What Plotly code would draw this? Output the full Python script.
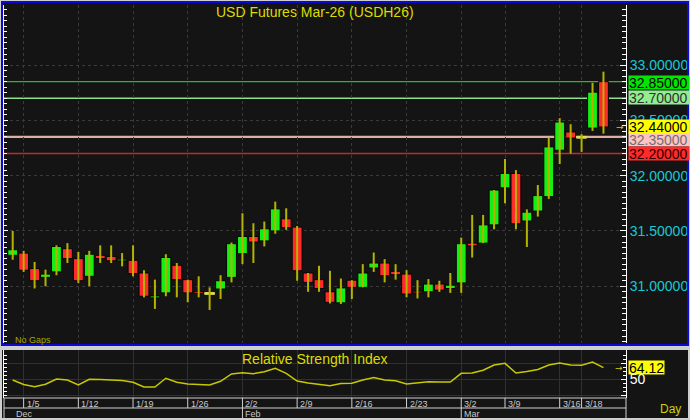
import plotly.graph_objects as go

# ---------------- data ----------------
opens = [31.28, 31.30, 31.16, 31.08, 31.13, 31.34, 31.25, 31.09, 31.28, 31.27,
         31.23, 31.235, 31.12, 30.895, 30.94, 31.19, 31.06, 30.95, 30.935, 30.975,
         31.08, 31.295, 31.45, 31.41, 31.50, 31.61, 31.535, 31.12, 31.06, 30.95,
         30.85, 31.055, 30.99, 31.165, 31.21, 31.135, 31.11, 30.955, 30.95, 31.02,
         30.98, 31.03, 31.39, 31.39, 31.555, 31.89, 32.02, 31.59, 31.68, 31.81,
         32.23, 32.395, 32.347, 32.43, 32.85]
highs = [31.50, 31.32, 31.22, 31.15, 31.37, 31.39, 31.31, 31.32, 31.37, 31.37,
         31.30, 31.37, 31.145, 31.06, 31.29, 31.21, 31.06, 31.09, 30.99, 31.10,
         31.395, 31.66, 31.57, 31.585, 31.765, 31.705, 31.545, 31.12, 31.185, 31.14,
         31.07, 31.055, 31.20, 31.305, 31.245, 31.20, 31.145, 31.055, 31.065, 31.05,
         31.12, 31.44, 31.645, 31.645, 31.87, 32.15, 32.05, 31.695, 31.915, 32.345,
         32.52, 32.465, 32.375, 32.84, 32.94]
lows = [31.24, 31.13, 30.98, 31.00, 31.10, 31.21, 31.03, 31.00, 31.21, 31.21,
        31.18, 31.09, 30.90, 30.795, 30.91, 30.90, 30.855, 30.90, 30.785, 30.885,
        31.035, 31.20, 31.21, 31.36, 31.475, 31.51, 31.05, 30.95, 30.95, 30.845,
        30.84, 30.885, 30.99, 31.13, 31.035, 31.06, 30.90, 30.89, 30.90, 30.95,
        30.94, 30.94, 31.26, 31.39, 31.515, 31.75, 31.515, 31.355, 31.63, 31.79,
        32.105, 32.20, 32.215, 32.405, 32.38]
closes = [31.33, 31.145, 31.05, 31.11, 31.36, 31.25, 31.05, 31.29, 31.25, 31.23,
          31.245, 31.115, 30.91, 30.912, 31.26, 31.06, 30.94, 30.935, 30.935, 31.05,
          31.385, 31.45, 31.40, 31.52, 31.70, 31.53, 31.14, 31.035, 30.98, 30.855,
          30.985, 30.99, 31.12, 31.21, 31.095, 31.105, 30.93, 30.94, 31.02, 30.965,
          31.01, 31.385, 31.365, 31.555, 31.87, 32.02, 31.565, 31.67, 31.82, 32.26,
          32.485, 32.34, 32.347, 32.755, 32.44]
rsi = [48.75, 43.1, 40.4, 43.4, 50.0, 48.75, 42.5, 49.6, 49.4, 48.75,
       48.1, 45.9, 40.0, 40.0, 50.9, 45.9, 43.75, 43.1, 42.5, 47.1,
       56.25, 57.9, 56.6, 59.1, 63.4, 57.1, 47.5, 45.0, 43.75, 41.6,
       44.4, 44.6, 48.75, 51.9, 48.75, 47.9, 43.75, 45.4, 46.5, 46.25,
       46.25, 57.1, 57.5, 60.9, 67.5, 69.6, 57.5, 59.4, 61.9, 67.5,
       70.0, 67.5, 67.1, 71.25, 64.12]

week_idx = [1, 6, 11, 16, 21, 26, 31, 36, 41, 45, 50, 52]
week_labels = ["1/5", "1/12", "1/19", "1/26", "2/2", "2/9", "2/16", "2/23",
               "3/2", "3/9", "3/16", "3/18"]
month_idx = [0, 21, 41]
month_labels = ["Dec", "Feb", "Mar"]

price_ticks = [31.0, 31.5, 32.0, 32.5, 33.0]
rsi_ticks = [30, 50, 70]
rsi_tick_labels = ["", "50", ""]

level_values = [32.85, 32.70, 32.35, 32.20]
level_line_colors = ["#2cb82c", "#8ee08e", "#dcaea6", "#c42828"]
level_line_widths = [1.3, 1.3, 2.2, 1.5]
level_box_colors = ["#00e600", "#90ee90", "#ffc4c4", "#ff2a2a"]
level_text_colors = ["#000000", "#303030", "#707070", "#2a0000"]
level_shift = [-1, 1, -3, 0]

title_text = "USD Futures Mar-26 (USDH26)"
rsi_title = "Relative Strength Index"

# ---------------- helpers (layout only) ----------------
W, H = 690, 420
def fx(p):
    return p / W
def fy(p):
    return 1 - p / H

FONT = "Liberation Sans, Arial, sans-serif"
BG = "#141414"
WICK = "#b4b400"
DOJI = "#dcdc5a"
UP = "#14f014"
DOWN = "#ff2a2a"
BLUE = "#0a0ad2"
GRAY = "#cfcfcf"

n = len(opens)
idx = list(range(n))

# wicks
wx, wy = [], []
for i in idx:
    wx += [i, i, None]
    wy += [lows[i], highs[i], None]

# bodies
bases, heights, colors, lcolors = [], [], [], []
for i in idx:
    o, c = opens[i], closes[i]
    if abs(c - o) < 1e-9:
        bases.append(o - 0.008)
        heights.append(0.016)
        colors.append(DOJI)
        lcolors.append(DOJI)
    else:
        bases.append(min(o, c))
        heights.append(abs(c - o))
        colors.append(UP if c > o else DOWN)
        lcolors.append("#050505")

fig = go.Figure()
fig.add_trace(go.Scatter(x=wx, y=wy, mode="lines", line=dict(color=WICK, width=2),
                         xaxis="x", yaxis="y", hoverinfo="skip"))
fig.add_trace(go.Bar(x=idx, y=heights, base=bases, width=0.9,
                     marker=dict(color=colors, line=dict(color=lcolors, width=1)),
                     xaxis="x", yaxis="y", hoverinfo="skip"))
fig.add_trace(go.Scatter(x=idx, y=rsi, mode="lines", line=dict(color="#c8c800", width=1.5),
                         xaxis="x2", yaxis="y2", hoverinfo="skip"))
# helpers for mirror axes
fig.add_trace(go.Scatter(x=[None], y=[None], xaxis="x", yaxis="y3", showlegend=False))
fig.add_trace(go.Scatter(x=[None], y=[None], xaxis="x2", yaxis="y4", showlegend=False))

XR = [-0.795, 56.06]
YR = [30.487, 33.543]
RR = [26.25, 86.25]
xdom = [fx(4), fx(626)]

axis_common = dict(zeroline=False, fixedrange=True, automargin=False)

fig.update_layout(
    width=W, height=H, margin=dict(l=0, r=0, t=0, b=0, autoexpand=False),
    paper_bgcolor=BG, plot_bgcolor=BG, showlegend=False, bargap=0,
    font=dict(family=FONT),
    xaxis=dict(domain=xdom, range=XR, anchor="y", tickmode="array", tickvals=week_idx,
               showticklabels=False, ticks="", showgrid=True, gridcolor="#3a3a3a",
               griddash="dot", gridwidth=1, showline=False, **axis_common),
    yaxis=dict(domain=[fy(343), fy(5)], range=YR, anchor="x", side="right",
               tickmode="array", tickvals=price_ticks, tickformat=".5f",
               ticks="inside", ticklen=6, tickcolor="#ffffff", tickwidth=1,
               showline=True, linecolor="#ffffff", linewidth=1,
               tickfont=dict(color="#18c8d4", size=14, family=FONT),
               showgrid=True, gridcolor="#3a3a3a", griddash="dot",
               minor=dict(tickmode="linear", tick0=0, dtick=0.05, ticks="inside", ticklen=4,
                          tickcolor="#ffffff", showgrid=False),
               **axis_common),
    yaxis3=dict(overlaying="y", anchor="x", side="left", range=YR,
                tickmode="array", tickvals=price_ticks, showticklabels=False,
                ticks="inside", ticklen=4, tickcolor="#ffffff",
                showline=True, linecolor="#ffffff", linewidth=1, showgrid=False,
                minor=dict(tickmode="linear", tick0=0, dtick=0.05, ticks="inside", ticklen=3,
                           tickcolor="#ffffff", showgrid=False),
                **axis_common),
    xaxis2=dict(domain=xdom, range=XR, anchor="y2", tickmode="array", tickvals=week_idx,
                showticklabels=False, ticks="", showgrid=True, gridcolor="#303030",
                gridwidth=1, showline=False, **axis_common),
    yaxis2=dict(domain=[fy(398), fy(350)], range=RR, anchor="x2", side="right",
                tickmode="array", tickvals=rsi_ticks, ticktext=rsi_tick_labels,
                ticks="inside", ticklen=5, tickcolor="#ffffff",
                showline=True, linecolor="#ffffff", linewidth=1,
                tickfont=dict(color="#ffffff", size=14, family=FONT),
                showgrid=True, gridcolor="#303030",
                minor=dict(tickmode="linear", tick0=0, dtick=5, ticks="inside", ticklen=3,
                           tickcolor="#ffffff", showgrid=False),
                **axis_common),
    yaxis4=dict(overlaying="y2", anchor="x2", side="left", range=RR,
                tickmode="linear", tick0=0, dtick=5, showticklabels=False,
                ticks="inside", ticklen=3, tickcolor="#ffffff",
                showline=True, linecolor="#ffffff", linewidth=1, showgrid=False,
                **axis_common),
)

shapes = []
# price level lines
for v, col, lw in zip(level_values, level_line_colors, level_line_widths):
    shapes.append(dict(type="line", xref="x domain", yref="y", x0=0, x1=1, y0=v, y1=v,
                       line=dict(color=col, width=lw), layer="below"))
# outer frame (light gray) and blue frame around the price panel
def band(x0, x1, y0, y1, col):
    return dict(type="rect", xref="paper", yref="paper", x0=fx(x0), x1=fx(x1),
                y0=fy(y1), y1=fy(y0), fillcolor=col, line=dict(width=0), layer="above")
shapes += [
    band(0, 690, 0, 1, GRAY),          # top gray
    band(0, 1, 0, 420, GRAY),          # left gray
    band(689, 690, 0, 420, GRAY),      # right gray
    band(0, 690, 418, 420, GRAY),      # bottom gray
    band(1, 689, 1, 3, BLUE),          # blue top
    band(1, 3, 1, 346, BLUE),          # blue left
    band(687, 689, 1, 346, BLUE),      # blue right
    band(1, 689, 344, 346, BLUE),      # blue bottom
    band(0, 690, 346, 350, GRAY),      # separator
    band(0, 2, 346, 420, GRAY),
    band(688, 690, 346, 420, GRAY),
]
# date strip lines
LC = "#d0d0d0"
for ypx in (398, 408):
    shapes.append(dict(type="line", xref="paper", yref="paper", x0=fx(4), x1=fx(626),
                       y0=fy(ypx), y1=fy(ypx), line=dict(color=LC, width=1)))
for xp in (4, 626):
    shapes.append(dict(type="line", xref="paper", yref="paper", x0=fx(xp), x1=fx(xp),
                       y0=fy(418), y1=fy(398), line=dict(color=LC, width=1)))
for wi in week_idx:
    shapes.append(dict(type="line", xref="x2", yref="paper", x0=wi, x1=wi,
                       y0=fy(408), y1=fy(398), line=dict(color=LC, width=1)))
for mi in month_idx[1:]:
    shapes.append(dict(type="line", xref="x2", yref="paper", x0=mi, x1=mi,
                       y0=fy(418), y1=fy(408), line=dict(color=LC, width=1)))
fig.update_layout(shapes=shapes)

ann = []
ann.append(dict(text=title_text, xref="paper", yref="paper", x=fx(315), y=fy(12),
                xanchor="center", yanchor="middle", showarrow=False,
                font=dict(color="#dcdc00", size=14, family=FONT)))
ann.append(dict(text=rsi_title, xref="paper", yref="paper", x=fx(315), y=fy(359),
                xanchor="center", yanchor="middle", showarrow=False,
                font=dict(color="#dcdc00", size=14, family=FONT)))
ann.append(dict(text="No Gaps", xref="paper", yref="paper", x=fx(13), y=fy(340),
                xanchor="left", yanchor="middle", showarrow=False,
                font=dict(color="#a8a800", size=9, family=FONT)))
ann.append(dict(text="Day", xref="paper", yref="paper", x=fx(670), y=fy(409),
                xanchor="center", yanchor="middle", showarrow=False,
                font=dict(color="#d0d000", size=12, family=FONT)))
# level labels
for v, bc, tc, ys in zip(level_values, level_box_colors, level_text_colors, level_shift):
    ann.append(dict(text=f"{v:.5f}", xref="paper", yref="y", x=fx(628), y=v, yshift=ys,
                    xanchor="left", yanchor="middle", showarrow=False, bgcolor=bc,
                    width=60, height=13, borderpad=0, align="left",
                    font=dict(color=tc, size=14, family=FONT)))
# last close label
last = closes[-1]
ann.append(dict(text=f"{last:.5f}", xref="paper", yref="y", x=fx(628), y=last,
                xanchor="left", yanchor="middle", showarrow=False, bgcolor="#ffff00",
                width=60, height=13, borderpad=0, align="left",
                font=dict(color="#000000", size=14, family=FONT)))
ann.append(dict(text="→", xref="paper", yref="y", x=fx(620), y=last,
                xanchor="center", yanchor="middle", showarrow=False,
                font=dict(color="#d0d000", size=9, family="DejaVu Sans")))
# RSI last value label
ann.append(dict(text=f"{rsi[-1]:.2f}", xref="paper", yref="y2", x=fx(628), y=rsi[-1],
                xanchor="left", yanchor="middle", showarrow=False, bgcolor="#ffff00",
                height=13, borderpad=0, align="left",
                font=dict(color="#000000", size=14, family=FONT)))
ann.append(dict(text="→", xref="paper", yref="y2", x=fx(619), y=rsi[-1],
                xanchor="center", yanchor="middle", showarrow=False,
                font=dict(color="#d0d000", size=9, family="DejaVu Sans")))
# date labels
for wi, wl in zip(week_idx, week_labels):
    ann.append(dict(text=wl, xref="x2", yref="paper", x=wi, y=fy(403.5), xshift=1,
                    xanchor="left", yanchor="middle", showarrow=False,
                    font=dict(color="#c8c8c8", size=9, family=FONT)))
for mi, ml in zip(month_idx, month_labels):
    ann.append(dict(text=ml, xref="x2", yref="paper", x=mi, y=fy(413.5), xshift=1,
                    xanchor="left", yanchor="middle", showarrow=False,
                    font=dict(color="#c8c8c8", size=9, family=FONT)))
fig.update_layout(annotations=ann)

fig.write_html("out.html", config={"displayModeBar": False, "staticPlot": True},
               post_script="document.body.style.margin='0';document.body.style.padding='0';")
